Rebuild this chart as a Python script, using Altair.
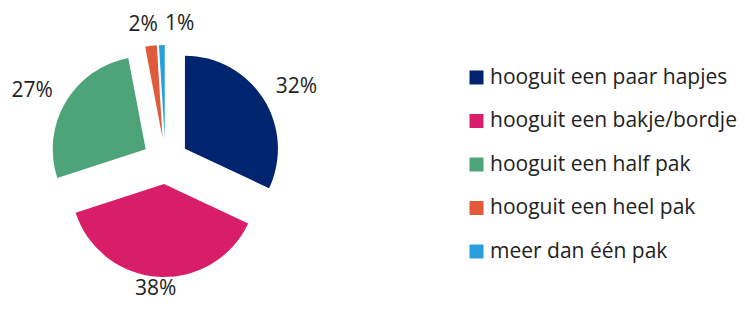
import altair as alt
import pandas as pd

categories = [
    "hooguit een paar hapjes",
    "hooguit een bakje/bordje",
    "hooguit een half pak",
    "hooguit een heel pak",
    "meer dan één pak",
]
values = [32, 38, 27, 2, 1]
colors = ["#00246E", "#D81E69", "#4DA478", "#E05A3B", "#29A0DC"]

df = pd.DataFrame({"cat": categories, "val": values, "idx": list(range(len(categories)))})

CX, CY, R, D = 157.5, 153, 93, 23
RX, RY = 155, 137.5
H = 293

base = (
    alt.Chart(df)
    .transform_window(cum="sum(val)", sort=[alt.SortField("idx")], frame=[None, 0])
    .transform_joinaggregate(total="sum(val)")
    .transform_calculate(
        a1="2*PI*datum.cum/datum.total",
        a0="2*PI*(datum.cum-datum.val)/datum.total",
    )
    .transform_calculate(mid="(datum.a0+datum.a1)/2")
    .transform_calculate(
        px=f"{CX}+{D}*sin(datum.mid)",
        py=f"{CY}-{D}*cos(datum.mid)",
        lx=f"{CX}+{RX}*sin(datum.mid)",
        ly=f"min({CY}-{RY}*cos(datum.mid), {H - 12})",
        label="datum.val+'%'",
    )
)

arcs = base.mark_arc(radius=R).encode(
    x=alt.X("px:Q", scale=None, axis=None),
    y=alt.Y("py:Q", scale=None, axis=None),
    theta=alt.Theta("a0:Q", scale=None),
    theta2="a1:Q",
    color=alt.Color(
        "cat:N",
        scale=alt.Scale(domain=categories, range=colors),
        legend=alt.Legend(
            title=None,
            orient="none",
            legendX=458,
            legendY=59,
            symbolType="square",
            symbolSize=196,
            symbolStrokeWidth=0,
            labelFontSize=21,
            labelFont="Open Sans",
            labelColor="#222222",
            rowPadding=21.5,
            labelOffset=3,
            padding=0,
            labelLimit=400,
        ),
    ),
)

text_enc = dict(
    x=alt.X("lx:Q", scale=None, axis=None),
    y=alt.Y("ly:Q", scale=None, axis=None),
    text="label:N",
)
tstyle = dict(fontSize=21, font="Open Sans", color="#222222", baseline="middle", align="center")

text_main = base.transform_filter(alt.datum.val >= 5).mark_text(**tstyle).encode(**text_enc)
text_2 = base.transform_filter(alt.datum.cat == categories[3]).mark_text(dx=-3, **tstyle).encode(**text_enc)
text_1 = base.transform_filter(alt.datum.cat == categories[4]).mark_text(dx=19, **tstyle).encode(**text_enc)

chart = (
    alt.layer(arcs, text_main, text_2, text_1)
    .properties(width=729, height=H, padding=0, autosize="none")
    .configure_view(stroke=None)
)

chart.save("out.html", embed_options={"renderer": "svg", "actions": False})
